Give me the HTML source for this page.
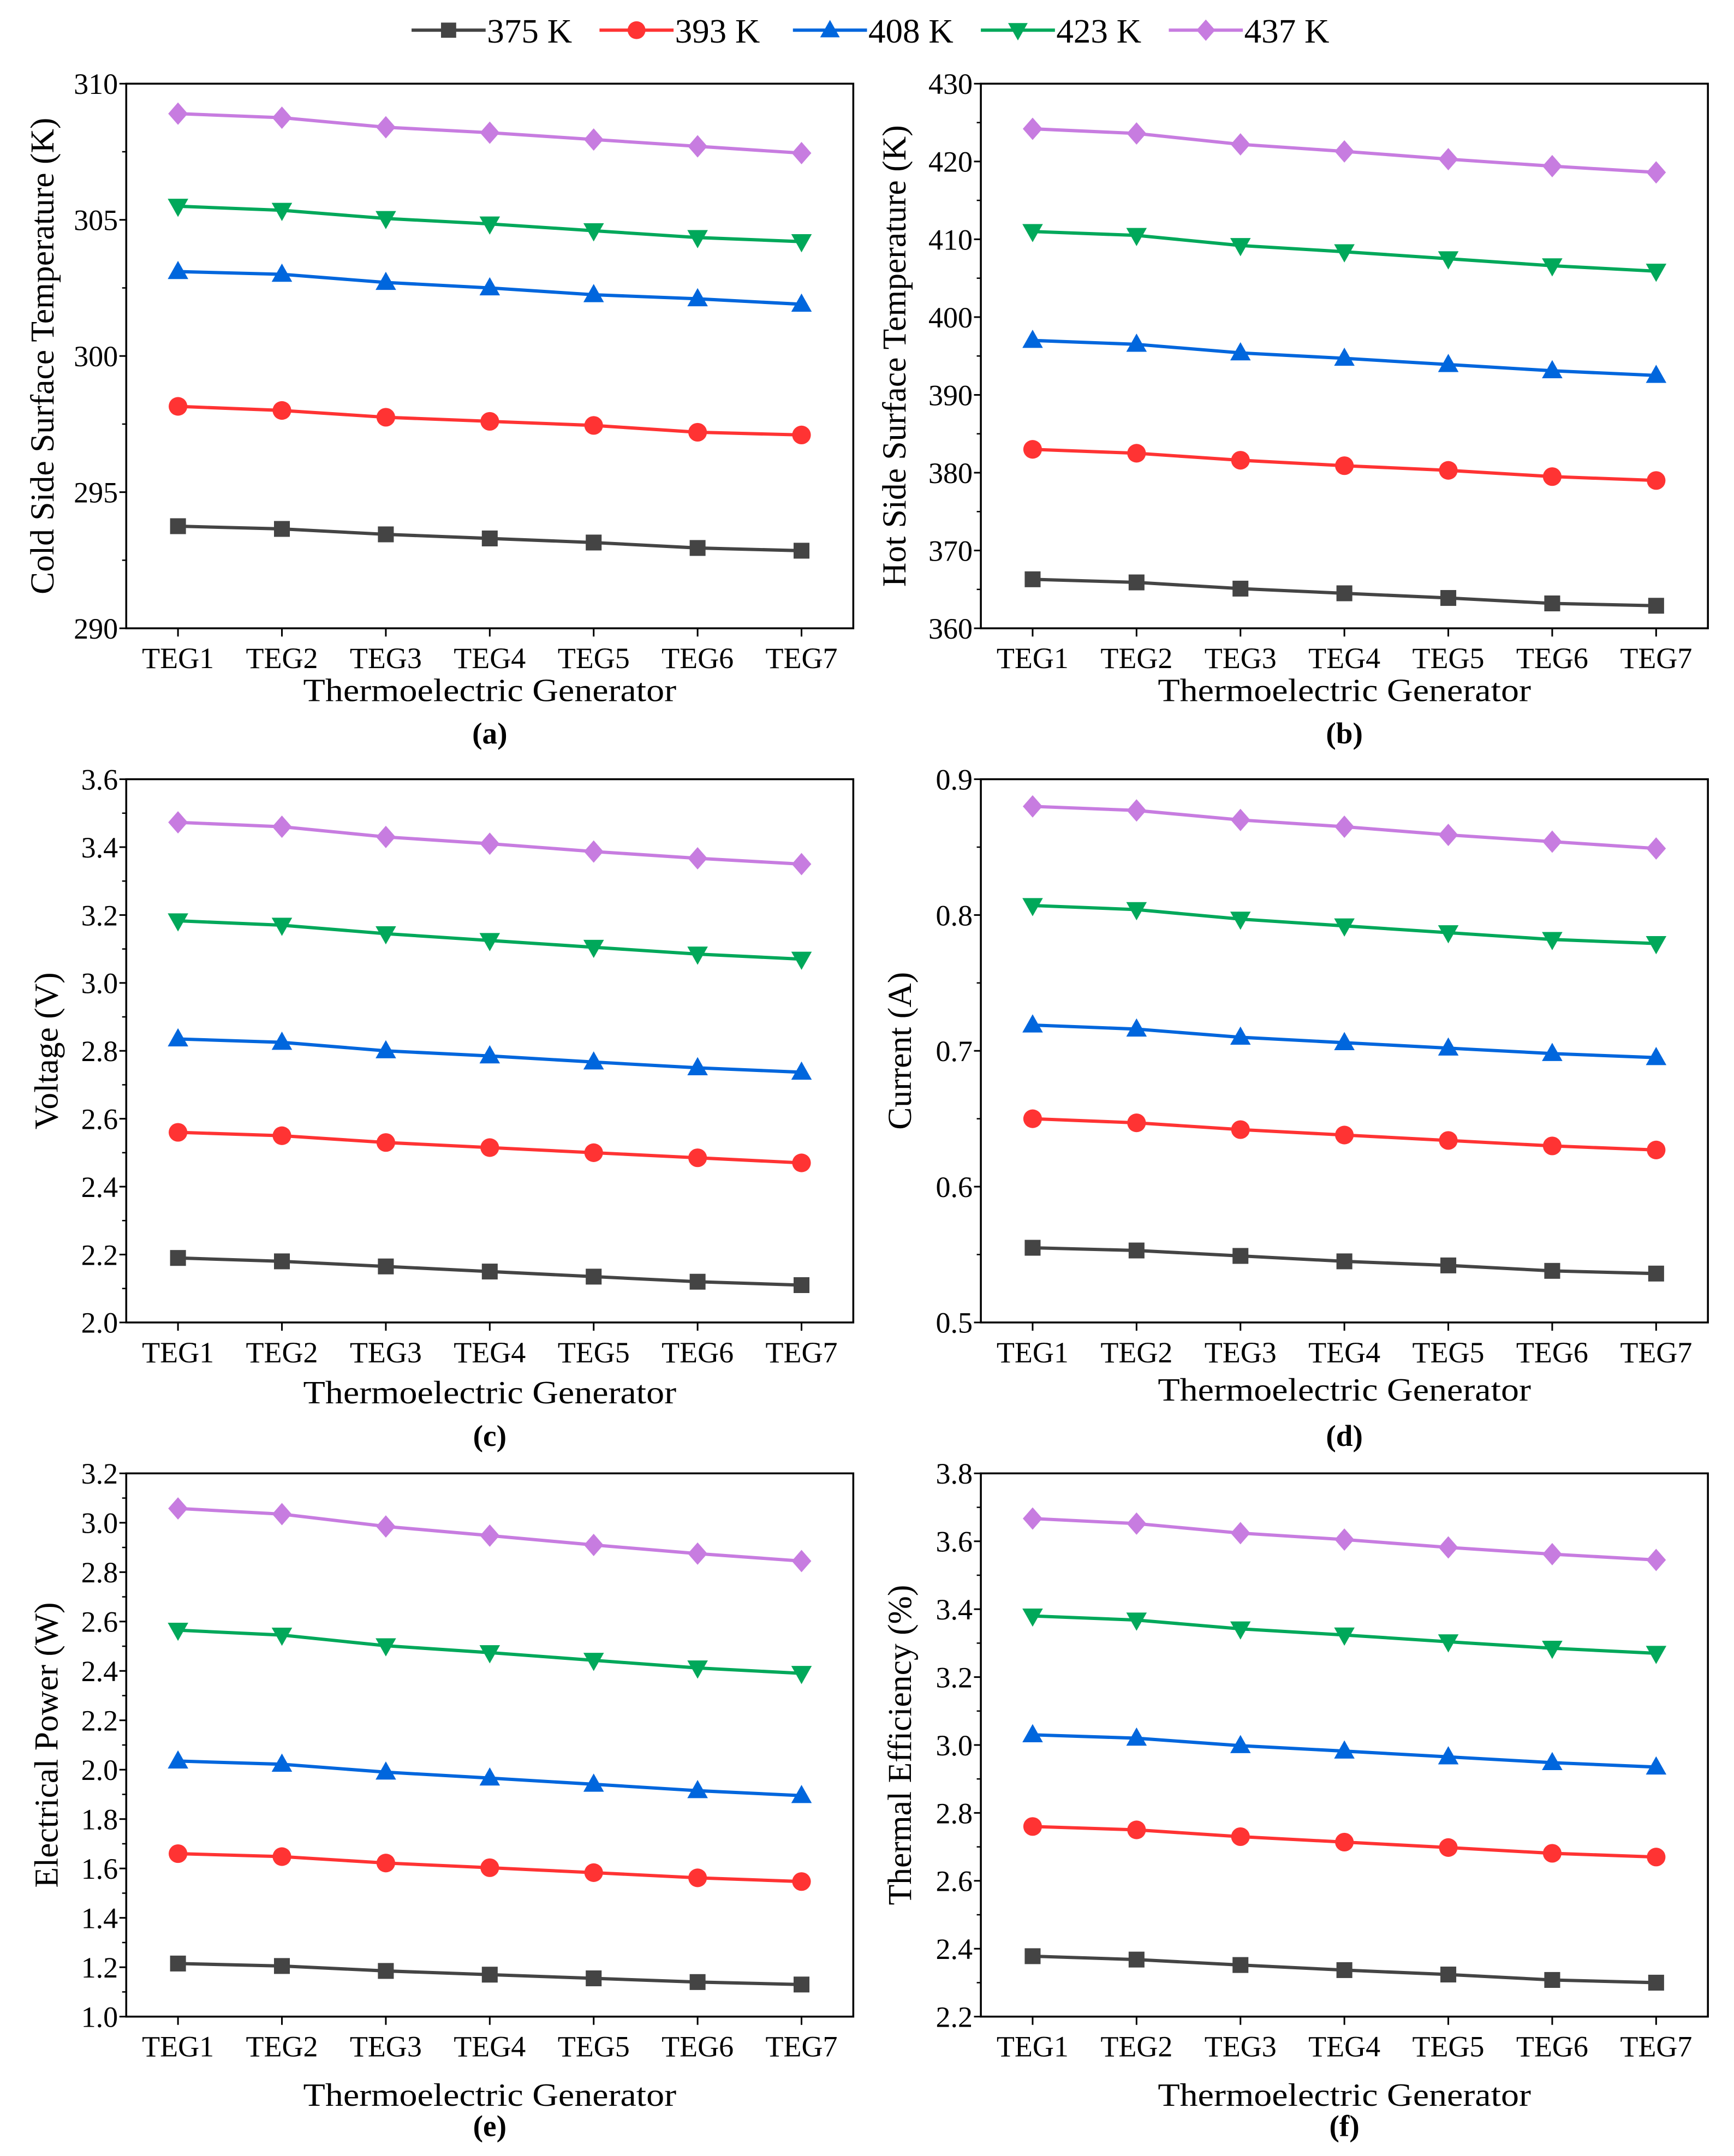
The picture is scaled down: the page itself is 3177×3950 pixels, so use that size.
<!DOCTYPE html>
<html><head><meta charset="utf-8">
<style>
html,body{margin:0;padding:0;background:#fff;}
svg{display:block;}
text{font-family:"Liberation Serif",serif;fill:#000;}
</style></head>
<body>
<svg id="fig" xmlns="http://www.w3.org/2000/svg" width="3177" height="3950" viewBox="0 0 1264 1571.6">
<rect width="1264" height="1571.6" fill="#fff"/>
</svg>
<script>
const categories = ["TEG1","TEG2","TEG3","TEG4","TEG5","TEG6","TEG7"];
const seriesNames = ["375 K","393 K","408 K","423 K","437 K"];
const colors = ["#444444","#ff3333","#0066dd","#00a85a","#c77ce0"];
const markers = ["square","circle","up","down","diamond"];

const aTicks = [290,295,300,305,310];
const a375 = [293.75,293.65,293.45,293.3,293.15,292.95,292.85];
const a393 = [298.15,298.0,297.75,297.6,297.45,297.2,297.1];
const a408 = [303.1,303.0,302.7,302.5,302.25,302.1,301.9];
const a423 = [305.5,305.35,305.05,304.85,304.6,304.35,304.2];
const a437 = [308.9,308.75,308.4,308.2,307.95,307.7,307.45];

const bTicks = [360,370,380,390,400,410,420,430];
const b375 = [366.3,365.9,365.1,364.5,363.9,363.2,362.9];
const b393 = [383.0,382.5,381.6,380.9,380.3,379.5,379.0];
const b408 = [397.0,396.5,395.4,394.7,393.9,393.1,392.5];
const b423 = [411.0,410.5,409.2,408.4,407.5,406.6,405.9];
const b437 = [424.2,423.6,422.2,421.3,420.3,419.4,418.6];

const cTicks = ["2.0","2.2","2.4","2.6","2.8","3.0","3.2","3.4","3.6"];
const c375 = [2.19,2.18,2.165,2.15,2.135,2.12,2.11];
const c393 = [2.56,2.55,2.53,2.515,2.5,2.485,2.47];
const c408 = [2.835,2.825,2.8,2.785,2.767,2.75,2.737];
const c423 = [3.183,3.17,3.145,3.125,3.105,3.085,3.07];
const c437 = [3.473,3.46,3.43,3.41,3.387,3.367,3.35];

const dTicks = ["0.5","0.6","0.7","0.8","0.9"];
const d375 = [0.555,0.553,0.549,0.545,0.542,0.538,0.536];
const d393 = [0.650,0.647,0.642,0.638,0.634,0.630,0.627];
const d408 = [0.719,0.716,0.710,0.706,0.702,0.698,0.695];
const d423 = [0.807,0.804,0.797,0.792,0.787,0.782,0.779];
const d437 = [0.880,0.877,0.870,0.865,0.859,0.854,0.849];

const eTicks = ["1.0","1.2","1.4","1.6","1.8","2.0","2.2","2.4","2.6","2.8","3.0","3.2"];
const e375 = [1.215,1.205,1.185,1.17,1.155,1.14,1.13];
const e393 = [1.66,1.648,1.622,1.603,1.583,1.562,1.547];
const e408 = [2.035,2.022,1.99,1.966,1.941,1.915,1.895];
const e423 = [2.565,2.545,2.502,2.474,2.443,2.412,2.39];
const e437 = [3.058,3.035,2.985,2.948,2.91,2.875,2.845];

const fTicks = ["2.2","2.4","2.6","2.8","3.0","3.2","3.4","3.6","3.8"];
const f375 = [2.378,2.368,2.352,2.337,2.324,2.308,2.3];
const f393 = [2.76,2.75,2.73,2.714,2.698,2.681,2.67];
const f408 = [3.03,3.02,2.998,2.982,2.965,2.948,2.935];
const f423 = [3.38,3.368,3.342,3.324,3.304,3.285,3.27];
const f437 = [3.667,3.652,3.624,3.605,3.582,3.562,3.545];

const NS = "http://www.w3.org/2000/svg";
const svg = document.getElementById("fig");
function mk(tag, attrs, parent){
  const e = document.createElementNS(NS, tag);
  for (const k in attrs) e.setAttribute(k, attrs[k]);
  (parent||svg).appendChild(e);
  return e;
}
function marker(g, type, x, y, col, s){
  let e;
  if (type==="square") e = mk("rect",{x:x-s*0.85,y:y-s*0.85,width:s*1.7,height:s*1.7,fill:col},g);
  else if (type==="circle") e = mk("circle",{cx:x,cy:y,r:s,fill:col},g);
  else if (type==="up") e = mk("polygon",{points:`${x},${y-s*1.15} ${x-s*1.1},${y+s*0.8} ${x+s*1.1},${y+s*0.8}`,fill:col},g);
  else if (type==="down") e = mk("polygon",{points:`${x},${y+s*1.15} ${x-s*1.1},${y-s*0.8} ${x+s*1.1},${y-s*0.8}`,fill:col},g);
  else e = mk("polygon",{points:`${x},${y-s*1.2} ${x+s*1.05},${y} ${x},${y+s*1.2} ${x-s*1.05},${y}`,fill:col},g);
  return e;
}

// legend
const legX = [300,437,578,715,852];
const leg = mk("g",{});


seriesNames.forEach((n,i)=>{
  const g = mk("g",{},leg);
  
  
  const x0 = legX[i];
  mk("line",{x1:x0,y1:22,x2:x0+54,y2:22,stroke:colors[i],"stroke-width":2.4},g);
  marker(g, markers[i], x0+27, 22, colors[i], 6.5);
  const t = mk("text",{x:x0+55,y:31,"font-size":25,textLength:62,lengthAdjust:"spacingAndGlyphs"},g);
  t.textContent = n;
});

function panel(cfg){
  const {id, L, R, T, B, ticks, series, ylabel, ylabX, letter, xlabY, letY} = cfg;
  const g = mk("g",{});
  
  
  const tv = ticks.map(Number);
  const ymin = tv[0], ymax = tv[tv.length-1];
  const yS = v => B - (v-ymin)/(ymax-ymin)*(B-T);
  const x0 = L + (R-L)*0.0712, x1 = R - (R-L)*0.0712;
  const xS = i => x0 + i*(x1-x0)/(categories.length-1);
  const frame = mk("rect",{x:L,y:T,width:R-L,height:B-T,fill:"none",stroke:"#000","stroke-width":1.4},g);
  
  
  const ya = mk("g",{},g);
  
  
  tv.forEach((v,k)=>{
    const y = yS(v);
    mk("line",{x1:L-5,y1:y,x2:L,y2:y,stroke:"#000","stroke-width":1.2},ya);
    if (k<tv.length-1){
      const ym = yS((v+tv[k+1])/2);
      mk("line",{x1:L-3,y1:ym,x2:L,y2:ym,stroke:"#000","stroke-width":1},ya);
    }
    const t = mk("text",{x:L-6,y:y+7.5,"font-size":21.5,"text-anchor":"end"},ya);
    t.textContent = ticks[k];
  });
  const xa = mk("g",{},g);
  
  
  categories.forEach((c,i)=>{
    const x = xS(i);
    mk("line",{x1:x,y1:B,x2:x,y2:B+6,stroke:"#000","stroke-width":1.2},xa);
    const t = mk("text",{x:x,y:B+29,"font-size":21.5,"text-anchor":"middle"},xa);
    t.textContent = c;
  });
  const xl = mk("text",{x:(L+R)/2,y:xlabY,"font-size":23.5,"text-anchor":"middle",textLength:272,lengthAdjust:"spacingAndGlyphs"},g);
  xl.textContent = "Thermoelectric Generator";
  
  
  const cy = (T+B)/2;
  const yl = mk("text",{x:ylabX,y:cy,"font-size":24.5,"text-anchor":"middle",transform:`rotate(-90 ${ylabX} ${cy})`},g);
  yl.textContent = ylabel;
  
  
  const lt = mk("text",{x:(L+R)/2,y:letY,"font-size":22,"font-weight":"bold","text-anchor":"middle"},g);
  lt.textContent = "("+id+")";
  
  
  series.forEach((vals,si)=>{
    const sg = mk("g",{},g);
    
    
    mk("polyline",{points:vals.map((v,i)=>xS(i)+","+yS(v)).join(" "),fill:"none",stroke:colors[si],"stroke-width":2.4},sg);
    vals.forEach((v,i)=>{
      const m = marker(sg, markers[si], xS(i), yS(v), colors[si], 6.8);
      
      
    });
  });
}

const LX = [92,622], RX = [715,1245];
panel({id:"a",L:LX[0],R:LX[1],T:61,B:458,ticks:aTicks,series:[a375,a393,a408,a423,a437],ylabel:"Cold Side Surface Temperature (K)",ylabX:39,xlabY:511,letY:542});
panel({id:"b",L:RX[0],R:RX[1],T:61,B:458,ticks:bTicks,series:[b375,b393,b408,b423,b437],ylabel:"Hot Side Surface Temperature (K)",ylabX:660,xlabY:511,letY:542});
panel({id:"c",L:LX[0],R:LX[1],T:568,B:964,ticks:cTicks,series:[c375,c393,c408,c423,c437],ylabel:"Voltage (V)",ylabX:42,xlabY:1023,letY:1054});
panel({id:"d",L:RX[0],R:RX[1],T:568,B:964,ticks:dTicks,series:[d375,d393,d408,d423,d437],ylabel:"Current (A)",ylabX:664,xlabY:1021,letY:1054});
panel({id:"e",L:LX[0],R:LX[1],T:1074,B:1470,ticks:eTicks,series:[e375,e393,e408,e423,e437],ylabel:"Electrical Power (W)",ylabX:42,xlabY:1535,letY:1557});
panel({id:"f",L:RX[0],R:RX[1],T:1074,B:1470,ticks:fTicks,series:[f375,f393,f408,f423,f437],ylabel:"Thermal Efficiency (%)",ylabX:664,xlabY:1535,letY:1557});
</script>
</body></html>
